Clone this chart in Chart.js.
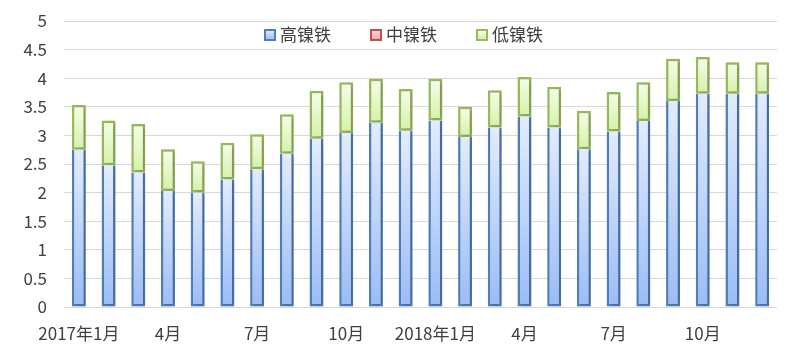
<!DOCTYPE html>
<html>
<head>
<meta charset="utf-8">
<script src="https://cdn.jsdelivr.net/npm/chart.js@4.4.0/dist/chart.umd.min.js"></script>
<style>
html,body{margin:0;padding:0;background:#fff;}
#wrap{width:804px;height:356px;}
</style>
</head>
<body>
<div id="wrap"><canvas id="c" width="804" height="356"></canvas></div>
<script>
const categories = ['2017-01','2017-02','2017-03','2017-04','2017-05','2017-06','2017-07','2017-08','2017-09','2017-10','2017-11','2017-12',
  '2018-01','2018-02','2018-03','2018-04','2018-05','2018-06','2018-07','2018-08','2018-09','2018-10','2018-11','2018-12'];
const tickLabels = ['2017年1月','','','4月','','','7月','','','10月','','',
  '2018年1月','','','4月','','','7月','','','10月','',''];
const seriesNames = ['高镍铁','中镍铁','低镍铁'];
const highNi = [2.75,2.48,2.35,2.03,2.00,2.23,2.41,2.68,2.94,3.04,3.22,3.08,
  3.26,2.97,3.14,3.33,3.14,2.76,3.07,3.25,3.60,3.73,3.73,3.73];
const midNi = [0,0,0,0,0,0,0,0,0,0,0,0,0,0,0,0,0,0,0,0,0,0,0,0];
const lowNi = [0.78,0.78,0.85,0.73,0.55,0.64,0.61,0.69,0.84,0.89,0.77,0.73,
  0.73,0.53,0.65,0.69,0.71,0.67,0.69,0.68,0.74,0.64,0.55,0.55];
const yTicks = [0,0.5,1,1.5,2,2.5,3,3.5,4,4.5,5];

const FONT = '"Noto Sans CJK SC", "Noto Sans", sans-serif';
const seriesData = [highNi, midNi, lowNi];
const fillTop = ['#e3ecfc','#f8d8d8','#f6fdec'];
const fillBottom = ['#9abcf6','#eaa9a8','#d4f1a8'];
const borders = ['#4f7fbf','#c0504d','#9bbb59'];

function gradFill(dsIndex){
  return function(ctx){
    const chart = ctx.chart;
    const y = chart.scales.y;
    if (!y || ctx.type !== 'data') return fillBottom[dsIndex];
    const i = ctx.dataIndex;
    let base = 0;
    for (let d = 0; d < dsIndex; d++) base += seriesData[d][i];
    const top = base + seriesData[dsIndex][i];
    const y0 = y.getPixelForValue(top);
    const y1 = y.getPixelForValue(base);
    if (!isFinite(y0) || !isFinite(y1) || y0 === y1) return fillBottom[dsIndex];
    const g = chart.ctx.createLinearGradient(0, y0, 0, y1);
    g.addColorStop(0, fillTop[dsIndex]);
    g.addColorStop(1, fillBottom[dsIndex]);
    return g;
  };
}

const legendPlugin = {
  id: 'customLegend',
  afterDraw(chart){
    const ctx = chart.ctx;
    ctx.save();
    ctx.font = '17px ' + FONT;
    ctx.textBaseline = 'middle';
    const box = 10, gap = 5, itemGap = 40;
    const widths = seriesNames.map(n => ctx.measureText(n).width);
    let total = 0;
    widths.forEach((w, k) => { total += box + gap + w + (k < widths.length - 1 ? itemGap : 0); });
    let x = 404 - total / 2;
    const cy = 35;
    seriesNames.forEach((n, k) => {
      const g = ctx.createLinearGradient(0, cy - box/2, 0, cy + box/2);
      g.addColorStop(0, fillTop[k]); g.addColorStop(1, fillBottom[k]);
      ctx.fillStyle = g;
      ctx.fillRect(x, cy - box/2, box, box);
      ctx.strokeStyle = borders[k];
      ctx.lineWidth = 2;
      ctx.strokeRect(x, cy - box/2, box, box);
      ctx.fillStyle = '#404040';
      ctx.textAlign = 'left';
      ctx.fillText(n, x + box + gap, cy);
      x += box + gap + widths[k] + itemGap;
    });
    ctx.restore();
  }
};

const shadowPlugin = {
  id: 'barShadow',
  beforeDatasetsDraw(chart){
    const ctx = chart.ctx;
    ctx.save();
    ctx.shadowColor = 'rgba(0,0,0,0.22)';
    ctx.shadowBlur = 4;
    ctx.shadowOffsetX = 2;
    ctx.shadowOffsetY = 1;
  },
  afterDatasetsDraw(chart){
    chart.ctx.restore();
  }
};

new Chart(document.getElementById('c'), {
  type: 'bar',
  data: {
    labels: categories,
    datasets: seriesNames.map((name, k) => ({
      label: name,
      data: seriesData[k],
      backgroundColor: gradFill(k),
      borderColor: borders[k],
      borderWidth: (c) => (c.raw === 0 ? 0 : 2.5),
      borderSkipped: k === 0 ? 'top' : false,
      barPercentage: 0.47,
      categoryPercentage: 1.0
    }))
  },
  options: {
    responsive: false,
    animation: false,
    devicePixelRatio: 1,
    layout: { padding: { top: 21, right: 27, left: 0, bottom: 0 } },
    plugins: { legend: { display: false }, tooltip: { enabled: false } },
    scales: {
      x: {
        stacked: true,
        grid: { display: false },
        border: { display: false },
        ticks: {
          autoSkip: false, maxRotation: 0, minRotation: 0,
          padding: 8,
          color: '#404040',
          font: { family: FONT, size: 17 },
          callback: (v, i) => tickLabels[i]
        },
        afterFit(scale){ scale.height = 49; }
      },
      y: {
        stacked: true,
        min: 0, max: 5,
        afterBuildTicks(scale){ scale.ticks = yTicks.map(v => ({ value: v })); },
        grid: { color: '#d9d9d9', lineWidth: 1, drawTicks: false },
        border: { display: false },
        ticks: {
          padding: 17,
          color: '#404040',
          font: { family: FONT, size: 17 },
          callback: v => String(v)
        },
        afterFit(scale){ scale.width = 64; scale.paddingTop = 0; scale.paddingBottom = 0; }
      }
    }
  },
  plugins: [shadowPlugin, legendPlugin]
});
</script>
</body>
</html>
